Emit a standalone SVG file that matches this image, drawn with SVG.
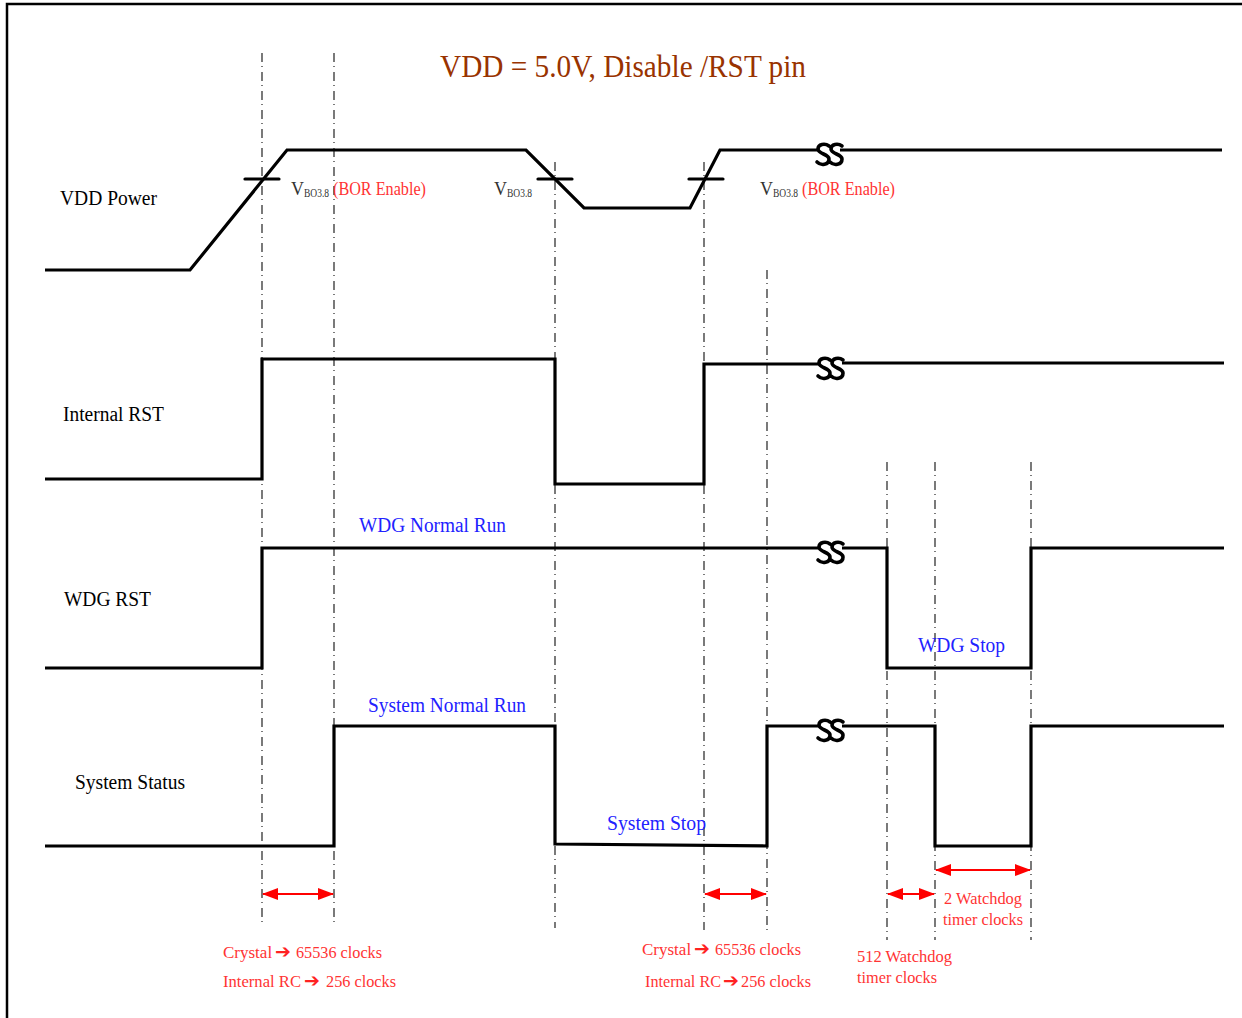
<svg xmlns="http://www.w3.org/2000/svg" width="1242" height="1018" viewBox="0 0 1242 1018">
<style>
.wave{fill:none;stroke:#000;stroke-width:3.2;stroke-linejoin:miter}
.brk{fill:none;stroke:#000;stroke-width:3.6;stroke-linecap:round}
.guide{stroke:#222;stroke-width:1.2;stroke-dasharray:9 4 1 5;fill:none}
.tick{stroke:#000;stroke-width:3.2;stroke-linecap:round}
.arr{stroke:#ff0000;stroke-width:2;fill:none;marker-start:url(#ah);marker-end:url(#ah)}
.lbl{font-family:"Liberation Serif","DejaVu Serif",serif;font-size:20px;fill:#000}
.blue{font-family:"Liberation Serif","DejaVu Serif",serif;font-size:20px;fill:#2222ff}
.red{font-family:"Liberation Serif","DejaVu Sans",serif;font-size:17px;fill:#ff3333}
.ar{font-family:"DejaVu Sans",sans-serif;font-size:19px;font-weight:bold;fill:#ff2222}
.vbo{font-family:"Liberation Serif","DejaVu Serif",serif;font-size:18px;fill:#333}
.redb{font-family:"Liberation Serif","DejaVu Serif",serif;font-size:18px;fill:#ff3333}
.title{font-family:"Liberation Serif","DejaVu Serif",serif;font-size:31px;fill:#993300}
</style>
<defs>
<marker id="ah" viewBox="0 0 16 12" refX="15" refY="6" markerWidth="16" markerHeight="12" markerUnits="userSpaceOnUse" orient="auto-start-reverse">
<path d="M0,0 L16,6 L0,12 Z" fill="#ff0000"/>
</marker>
<path id="ss" d="M7,-8 C3,-11 -4,-10 -4,-5 C-4,0 7,0 7,5 C7,11 -1,12 -5,8 M20,-8 C16,-11 9,-10 9,-5 C9,0 20,0 20,5 C20,11 12,12 8,8"/>
</defs>
<rect width="1242" height="1018" fill="#fff"/>
<g id="frame">
<path d="M7,1018 L7,4 L1242,4" fill="none" stroke="#000" stroke-width="2.5"/>
</g>
<g id="title">
<text class="title" x="440" y="77" textLength="366" lengthAdjust="spacingAndGlyphs">VDD = 5.0V, Disable /RST pin</text>
</g>
<g id="guides">
<line class="guide" x1="262" y1="53" x2="262" y2="926"/>
<line class="guide" x1="334" y1="53" x2="334" y2="926"/>
<line class="guide" x1="555" y1="162" x2="555" y2="928"/>
<line class="guide" x1="704" y1="162" x2="704" y2="930"/>
<line class="guide" x1="767" y1="270" x2="767" y2="930"/>
<line class="guide" x1="887" y1="462" x2="887" y2="940"/>
<line class="guide" x1="935" y1="462" x2="935" y2="940"/>
<line class="guide" x1="1031" y1="462" x2="1031" y2="940"/>
</g>
<g id="vdd-power">
<text class="lbl" x="60" y="205" textLength="97" lengthAdjust="spacingAndGlyphs">VDD Power</text>
<polyline class="wave" points="45,270 190,270 287,150 526,150 584,208 690,208 720,150 818,150"/>
<line class="wave" x1="840" y1="150" x2="1222" y2="150"/>
<use href="#ss" x="822" y="154" class="brk"/>
<line class="tick" x1="245" y1="179" x2="279" y2="179"/>
<line class="tick" x1="538" y1="179" x2="572" y2="179"/>
<line class="tick" x1="689" y1="179" x2="723" y2="179"/>
<text class="vbo" x="291" y="195">V<tspan font-size="12" dy="2" textLength="25" lengthAdjust="spacingAndGlyphs">BO3.8</tspan></text>
<text class="redb" x="333" y="195" textLength="93" lengthAdjust="spacingAndGlyphs">(BOR Enable)</text>
<text class="vbo" x="494" y="195">V<tspan font-size="12" dy="2" textLength="25" lengthAdjust="spacingAndGlyphs">BO3.8</tspan></text>
<text class="vbo" x="760" y="195">V<tspan font-size="12" dy="2" textLength="25" lengthAdjust="spacingAndGlyphs">BO3.8</tspan></text>
<text class="redb" x="802" y="195" textLength="93" lengthAdjust="spacingAndGlyphs">(BOR Enable)</text>
</g>
<g id="internal-rst">
<text class="lbl" x="63" y="421" textLength="101" lengthAdjust="spacingAndGlyphs">Internal RST</text>
<polyline class="wave" points="45,479 262,479 262,359 555,359 555,484 704,484 704,364 820,364"/>
<line class="wave" x1="842" y1="363" x2="1224" y2="363"/>
<use href="#ss" x="823" y="368" class="brk"/>
</g>
<g id="wdg-rst">
<text class="lbl" x="64" y="606" textLength="87" lengthAdjust="spacingAndGlyphs">WDG RST</text>
<polyline class="wave" points="45,668 262,668 262,548 820,548"/>
<polyline class="wave" points="842,548 887,548 887,668 1031,668 1031,548 1224,548"/>
<use href="#ss" x="823" y="552" class="brk"/>
<text class="blue" x="359" y="532" textLength="147" lengthAdjust="spacingAndGlyphs">WDG Normal Run</text>
<text class="blue" x="918" y="652" textLength="87" lengthAdjust="spacingAndGlyphs">WDG Stop</text>
</g>
<g id="system-status">
<text class="lbl" x="75" y="789" textLength="110" lengthAdjust="spacingAndGlyphs">System Status</text>
<polyline class="wave" points="45,846 334,846 334,726 555,726 555,844 767,846 767,726 820,726"/>
<polyline class="wave" points="842,726 935,726 935,846 1031,846 1031,726 1224,726"/>
<use href="#ss" x="823" y="730" class="brk"/>
<text class="blue" x="368" y="712" textLength="158" lengthAdjust="spacingAndGlyphs">System Normal Run</text>
<text class="blue" x="607" y="830" textLength="99" lengthAdjust="spacingAndGlyphs">System Stop</text>
</g>
<g id="connectors">
<line class="arr" x1="263" y1="894" x2="333" y2="894"/>
<line class="arr" x1="705" y1="894" x2="766" y2="894"/>
<line class="arr" x1="888" y1="894" x2="934" y2="894"/>
<line class="arr" x1="936" y1="870" x2="1030" y2="870"/>
</g>
<g id="timing-labels">
<text class="red" x="223" y="958">Crystal</text><text class="ar" x="275" y="958">➔</text><text class="red" x="296" y="958" textLength="86" lengthAdjust="spacingAndGlyphs">65536 clocks</text>
<text class="red" x="223" y="987" textLength="78" lengthAdjust="spacingAndGlyphs">Internal RC</text><text class="ar" x="304" y="987">➔</text><text class="red" x="326" y="987" textLength="70" lengthAdjust="spacingAndGlyphs">256 clocks</text>
<text class="red" x="642" y="955">Crystal</text><text class="ar" x="694" y="955">➔</text><text class="red" x="715" y="955" textLength="86" lengthAdjust="spacingAndGlyphs">65536 clocks</text>
<text class="red" x="645" y="987" textLength="76" lengthAdjust="spacingAndGlyphs">Internal RC</text><text class="ar" x="723" y="987">➔</text><text class="red" x="741" y="987" textLength="70" lengthAdjust="spacingAndGlyphs">256 clocks</text>
<text class="red" x="857" y="962" textLength="95" lengthAdjust="spacingAndGlyphs">512 Watchdog</text>
<text class="red" x="857" y="983" textLength="80" lengthAdjust="spacingAndGlyphs">timer clocks</text>
<text class="red" x="944" y="904" textLength="78" lengthAdjust="spacingAndGlyphs">2 Watchdog</text>
<text class="red" x="943" y="925" textLength="80" lengthAdjust="spacingAndGlyphs">timer clocks</text>
</g>
</svg>
